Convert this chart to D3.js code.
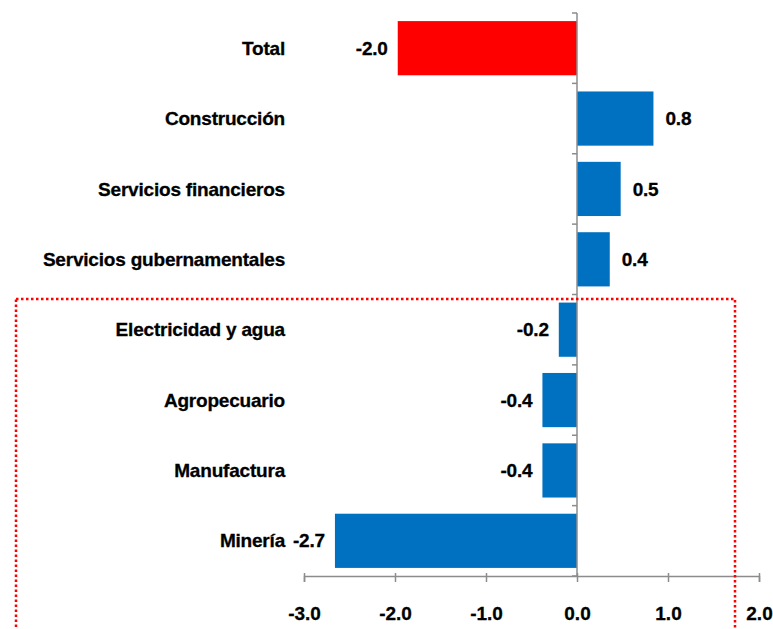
<!DOCTYPE html>
<html>
<head>
<meta charset="utf-8">
<script src="https://cdn.jsdelivr.net/npm/d3@7"></script>
<style>
  body { margin: 0; background: #fff; }
  text { font-family: "Liberation Sans Narrow", "Arial Narrow", "Liberation Sans", sans-serif; font-weight: bold; fill: #000; }
</style>
</head>
<body>
<div id="chart"></div>
<script>
// sectors, top to bottom
const categories = ["Total", "Construcción", "Servicios financieros", "Servicios gubernamentales",
  "Electricidad y agua", "Agropecuario", "Manufactura", "Minería"]
const values = [-1.97, 0.84, 0.48, 0.36, -0.2, -0.38, -0.38, -2.66]
const xTicks = [-3, -2, -1, 0, 1, 2]
const xTickLabels = ["-3.0", "-2.0", "-1.0", "0.0", "1.0", "2.0"]

const width = 773
const height = 629
const margin = ({top: 13, right: 14, bottom: 53, left: 304})

const svg = d3.select("#chart").append("svg")
  .attr("width", width)
  .attr("height", height)

const x = d3.scaleLinear()
  .domain([-3, 2])
  .range([margin.left, width - margin.right])

const y = d3.scaleBand()
  .domain(categories)
  .range([margin.top, height - margin.bottom])
  .paddingInner(0.23)
  .paddingOuter(0.115)

const axisColor = "#8c8c8c"
const fontSize = "19px"

// bars
svg.append("g")
  .selectAll("rect")
  .data(categories)
  .join("rect")
  .attr("x", (d, i) => x(Math.min(0, values[i])))
  .attr("y", d => y(d))
  .attr("width", (d, i) => Math.abs(x(values[i]) - x(0)))
  .attr("height", y.bandwidth())
  .attr("fill", (d, i) => i === 0 ? "#ff0000" : "#0070c0")

// x axis
const xAxis = svg.append("g")
  .attr("transform", `translate(0,${height - margin.bottom})`)
  .call(d3.axisBottom(x).tickValues(xTicks).tickFormat((d, i) => xTickLabels[i]).tickSize(6))
xAxis.attr("font-family", null).attr("font-size", null)
xAxis.select(".domain").attr("stroke", axisColor).attr("stroke-width", 1.5)
xAxis.selectAll(".tick line").attr("stroke", axisColor).attr("stroke-width", 1.5).attr("y1", -3)
xAxis.selectAll(".tick text")
  .attr("y", 31)
  .style("font-size", fontSize)
  .style("stroke", "#000").style("stroke-width", 0.3)

// vertical axis at zero, ticks between categories
const yTop = margin.top, yBottom = height - margin.bottom
svg.append("line")
  .attr("x1", x(0)).attr("x2", x(0))
  .attr("y1", yTop).attr("y2", yBottom)
  .attr("stroke", axisColor).attr("stroke-width", 1.5)
const gap = y.step() * y.paddingInner() / 2
const bounds = categories.map(c => y(c) - gap).concat([yBottom])
svg.append("g")
  .selectAll("line")
  .data(bounds)
  .join("line")
  .attr("x1", x(0) - 5).attr("x2", x(0))
  .attr("y1", d => d).attr("y2", d => d)
  .attr("stroke", axisColor).attr("stroke-width", 1.5)

// category labels
svg.append("g")
  .selectAll("text")
  .data(categories)
  .join("text")
  .attr("x", 285)
  .attr("y", d => y(d) + y.bandwidth() / 2)
  .attr("dy", "0.35em")
  .attr("text-anchor", "end")
  .style("font-size", fontSize)
  .style("letter-spacing", "-0.2px")
  .style("stroke", "#000").style("stroke-width", 0.3)
  .text(d => d)

// value labels
svg.append("g")
  .selectAll("text")
  .data(categories)
  .join("text")
  .attr("x", (d, i) => values[i] < 0 ? x(values[i]) - 10 : x(values[i]) + 12)
  .attr("y", d => y(d) + y.bandwidth() / 2)
  .attr("dy", "0.35em")
  .attr("text-anchor", (d, i) => values[i] < 0 ? "end" : "start")
  .style("font-size", fontSize)
  .style("letter-spacing", "-0.2px")
  .style("stroke", "#000").style("stroke-width", 0.3)
  .text((d, i) => values[i].toFixed(1))

// dotted frame around the falling sectors
svg.append("rect")
  .attr("x", 16)
  .attr("y", 299)
  .attr("width", 735 - 16)
  .attr("height", 400)
  .attr("fill", "none")
  .attr("stroke", "#ff0000")
  .attr("stroke-width", 2.5)
  .attr("stroke-dasharray", "2.5,2.5")
</script>
</body>
</html>
